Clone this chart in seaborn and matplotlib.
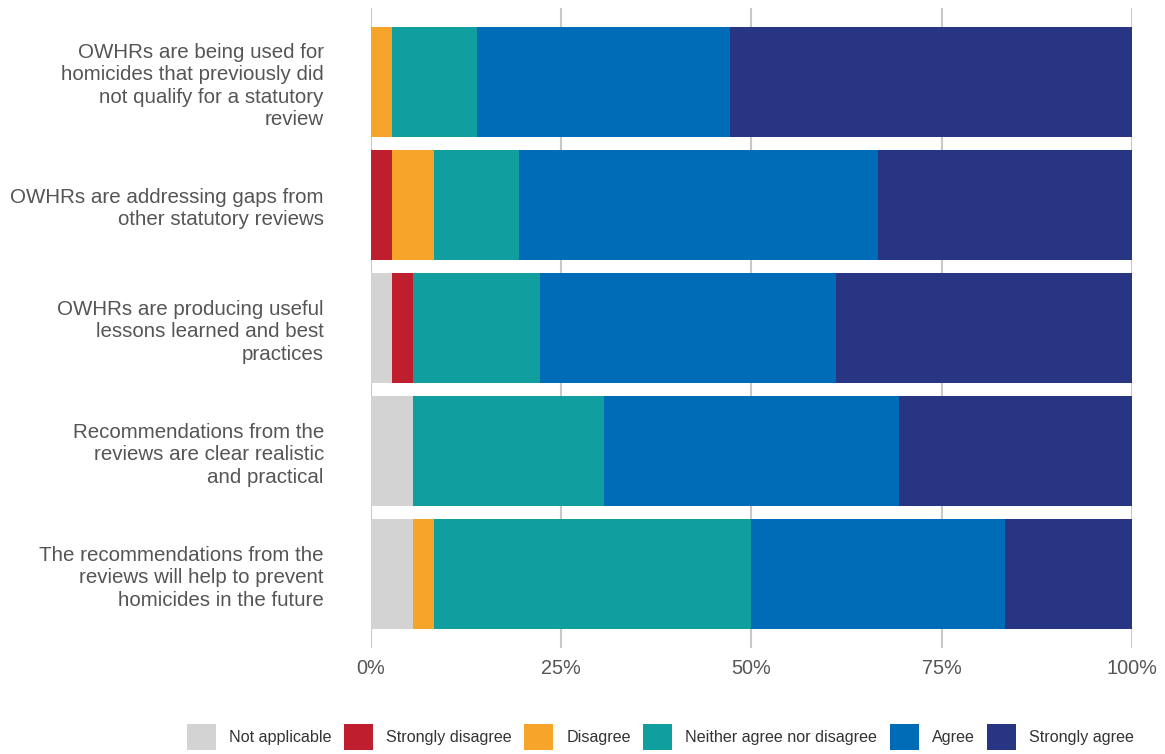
import numpy as np
import pandas as pd
import matplotlib
matplotlib.use("Agg")
import matplotlib.pyplot as plt
import seaborn as sns
from matplotlib.patches import Patch

categories = [
    "OWHRs are being used for\nhomicides that previously did\nnot qualify for a statutory\nreview",
    "OWHRs are addressing gaps from\nother statutory reviews",
    "OWHRs are producing useful\nlessons learned and best\npractices",
    "Recommendations from the\nreviews are clear realistic\nand practical",
    "The recommendations from the\nreviews will help to prevent\nhomicides in the future",
]
responses = ["Not applicable", "Strongly disagree", "Disagree",
             "Neither agree nor disagree", "Agree", "Strongly agree"]
# counts out of 36 respondents
not_applicable    = [0, 0, 1, 2, 2]
strongly_disagree = [0, 1, 1, 0, 0]
disagree          = [1, 2, 0, 0, 1]
neither           = [4, 4, 6, 9, 15]
agree             = [12, 17, 14, 14, 12]
strongly_agree    = [19, 12, 14, 11, 6]
colors = ["#d3d3d3", "#be1e2d", "#f6a52a", "#109e9e", "#006cb7", "#283583"]

series = [not_applicable, strongly_disagree, disagree, neither, agree, strongly_agree]
counts = np.array(series, dtype=float)
pct = counts / counts.sum(axis=0) * 100
cum = np.cumsum(pct, axis=0)

rows = []
for i, r in enumerate(responses):
    for j, c in enumerate(categories):
        rows.append({"response": r, "category": c, "cum": cum[i, j]})
df = pd.DataFrame(rows)

sns.set_theme(style="white")
plt.rcParams["font.family"] = ["Liberation Sans", "DejaVu Sans"]

fig = plt.figure(figsize=(11.65, 7.54), dpi=100)
ax = fig.add_axes([0.3185, 0.141, 0.653, 0.848])

for i in range(len(responses) - 1, -1, -1):
    sub = df[df["response"] == responses[i]]
    sns.barplot(data=sub, x="cum", y="category", order=categories,
                color=colors[i], orient="h", width=0.895, ax=ax,
                saturation=1, linewidth=0, zorder=3)

ax.set_xlim(0, 100)
ax.set_ylim(4.6, -0.6)
ax.set_xticks([0, 25, 50, 75, 100])
ax.set_xticklabels(["0%", "25%", "50%", "75%", "100%"])
ax.grid(axis="x", color="#c8c8c8", linewidth=1.5, zorder=0)
ax.set_axisbelow(True)
for s in ax.spines.values():
    s.set_visible(False)
ax.set_xlabel("")
ax.set_ylabel("")
ax.tick_params(axis="x", length=0, pad=8, labelsize=14.3, labelcolor="#555555")
ax.tick_params(axis="y", length=0, pad=34, labelsize=14.8, labelcolor="#555555")
for t in ax.get_yticklabels():
    t.set_linespacing(1.23)
    t.set_horizontalalignment("right")

handles = [Patch(facecolor=c, edgecolor="none", label=r) for r, c in zip(responses, colors)]
fig.legend(handles=handles, loc="center", bbox_to_anchor=(0.567, 0.023), ncol=6,
           frameon=False, fontsize=11.6, handlelength=1.8, handleheight=2.1,
           columnspacing=0.78, handletextpad=0.8, labelcolor="#333333")

fig.savefig("out.png", dpi=100)
